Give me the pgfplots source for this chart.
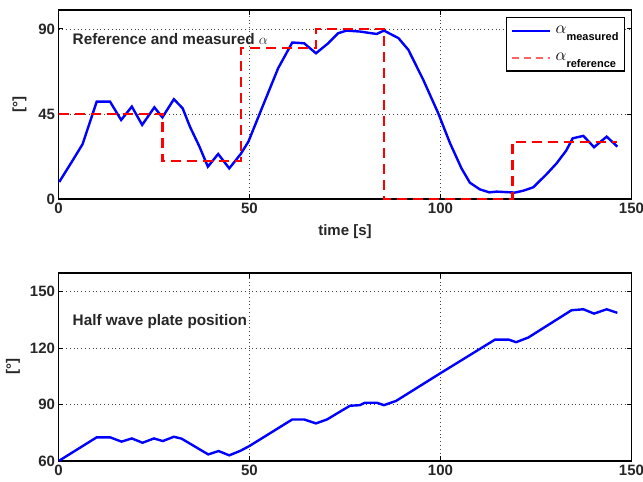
\documentclass[border=0pt]{standalone}
\usepackage{fontspec}
\setmainfont{Liberation Sans}
\usepackage{pgfplots}
\pgfplotsset{compat=1.18}
\definecolor{txt}{RGB}{38,38,38}
\definecolor{mblue}{RGB}{0,0,255}
\definecolor{mred}{RGB}{255,0,0}
\definecolor{lred}{RGB}{255,100,100}
\pgfplotsset{
  mstyle/.style={
    scale only axis,
    width=573pt,
    xmin=0, xmax=150,
    xtick={0,50,100,150},
    tick align=inside,
    xtick pos=both, ytick pos=both,
    major tick length=5pt,
    axis line style={black, line width=1.2pt},
    every tick/.style={black, line width=0.8pt},
    grid=major,
    major grid style={black!75, dash pattern=on 0.8pt off 3pt, line width=0.7pt},
    /pgf/number format/assume math mode=true,
    tick label style={font=\fontsize{15}{15}\selectfont\bfseries, text=txt},
    label style={font=\fontsize{15}{15}\selectfont\bfseries, text=txt},
    clip=false,
  }
}
\begin{document}
\begin{tikzpicture}
\useasboundingbox (0,0) rectangle (643pt,482pt);
% top axis
\begin{axis}[mstyle,
  at={(58.5pt,283pt)}, anchor=south west,
  height=189pt,
  ymin=0, ymax=100,
  ytick={0,45,90},
  xlabel={time [s]},
  xlabel style={yshift=-5pt},
  ylabel={[°]},
  ylabel style={yshift=5pt},
  legend style={at={(0.989,0.965)}, anchor=north east, draw=black, line width=1.4pt,
    font=\bfseries, row sep=14pt, inner xsep=4pt, inner ysep=7pt, cells={anchor=west}},
  legend cell align=left,
]
\addplot[mblue, line width=2.4pt, forget plot] coordinates {
(0.2,9) (0.8,11) (3.4,19.4) (6.3,29) (10,51.5) (13.5,51.5) (16.4,41.8) (19.2,48.9)
(21.9,39.2) (25.1,48.5) (27.2,43.2) (30.2,52.8) (32.5,48) (34.4,38.3) (36.9,27.7)
(39.1,17.1) (41.8,23.8) (44.7,16.2) (47.7,23.8) (49.7,30.3) (53.6,49.8) (57.5,69.2)
(61.2,82.8) (64.3,82.4) (67.4,77.1) (70.6,82.4) (73.2,87.7) (75.4,89.1) (78.9,88.6)
(83.3,87.3) (85.2,89.1) (89,85.1) (91.6,78.9) (95.5,63) (99.4,45.4) (102.5,29.5)
(105.5,16.2) (107.7,8.6) (110.3,5.1) (112.8,3.5) (114.7,3.9) (119.5,3.4) (121.7,4.4)
(124.3,6.2) (127.8,13.2) (130.4,18.9) (132.9,25.6) (134.6,32.1) (137.4,33.4)
(140.2,27.4) (143.5,33) (146.3,27.7)
};
\addplot[mred, line width=2.4pt, dash pattern=on 10pt off 6pt, forget plot] coordinates {
(0,45) (27.2,45) (27.2,20) (47.7,20) (47.7,80) (67.4,80) (67.4,90) (85.2,90)
(85.2,0) (118.8,0) (118.8,30) (146.3,30)
};
\node[anchor=west, font=\fontsize{15.3}{16}\selectfont\bfseries, text=txt] at (axis cs:2.8,84.5) {Reference and measured $\alpha$};
\addlegendimage{legend image code/.code={\draw[mblue, line width=2.2pt] (0pt,0pt) -- (38pt,0pt);}}
\addlegendentry{\hspace*{3pt}\fontsize{16}{16}\selectfont$\alpha$\raisebox{-7pt}{\fontsize{11}{11}\selectfont\bfseries measured}}
\addlegendimage{legend image code/.code={\draw[draw=lred, line width=1.6pt, dash pattern=on 7pt off 5pt] (0pt,0pt) -- (38pt,0pt);}}
\addlegendentry{\hspace*{3pt}\fontsize{16}{16}\selectfont$\alpha$\raisebox{-7pt}{\fontsize{11}{11}\selectfont\bfseries reference}}
\end{axis}
% bottom axis
\begin{axis}[mstyle,
  at={(58.5pt,21pt)}, anchor=south west,
  height=188pt,
  ymin=60, ymax=160,
  ytick={60,90,120,150},
  ylabel={[°]},
  ylabel style={yshift=3pt},
]
\addplot[mblue, line width=2.4pt] coordinates {
(0.2,60.2) (10,72.6) (13.5,72.6) (16.5,70.3) (19.2,72) (22,69.7) (25,72) (27.3,70.6)
(30.2,72.9) (32.2,71.9) (39.2,63.5) (41.9,65.3) (44.7,63) (47.7,65.5) (50,68)
(61.2,82.1) (64.3,82.1) (67.4,80) (70.3,82.1) (76.3,89.4) (78.9,89.7) (80.2,91)
(83.3,91) (85.2,89.7) (88.4,92) (99.9,106.6) (114.3,124.6) (117.8,124.6) (119.8,123.2)
(123,125.7) (134.3,140.2) (137.4,140.7) (140.2,138.4) (143.5,140.7) (146.3,138.8)
};
\node[anchor=west, font=\fontsize{15.3}{16}\selectfont\bfseries, text=txt] at (axis cs:2.8,134.3) {Half wave plate position};
\end{axis}
\end{tikzpicture}
\end{document}
